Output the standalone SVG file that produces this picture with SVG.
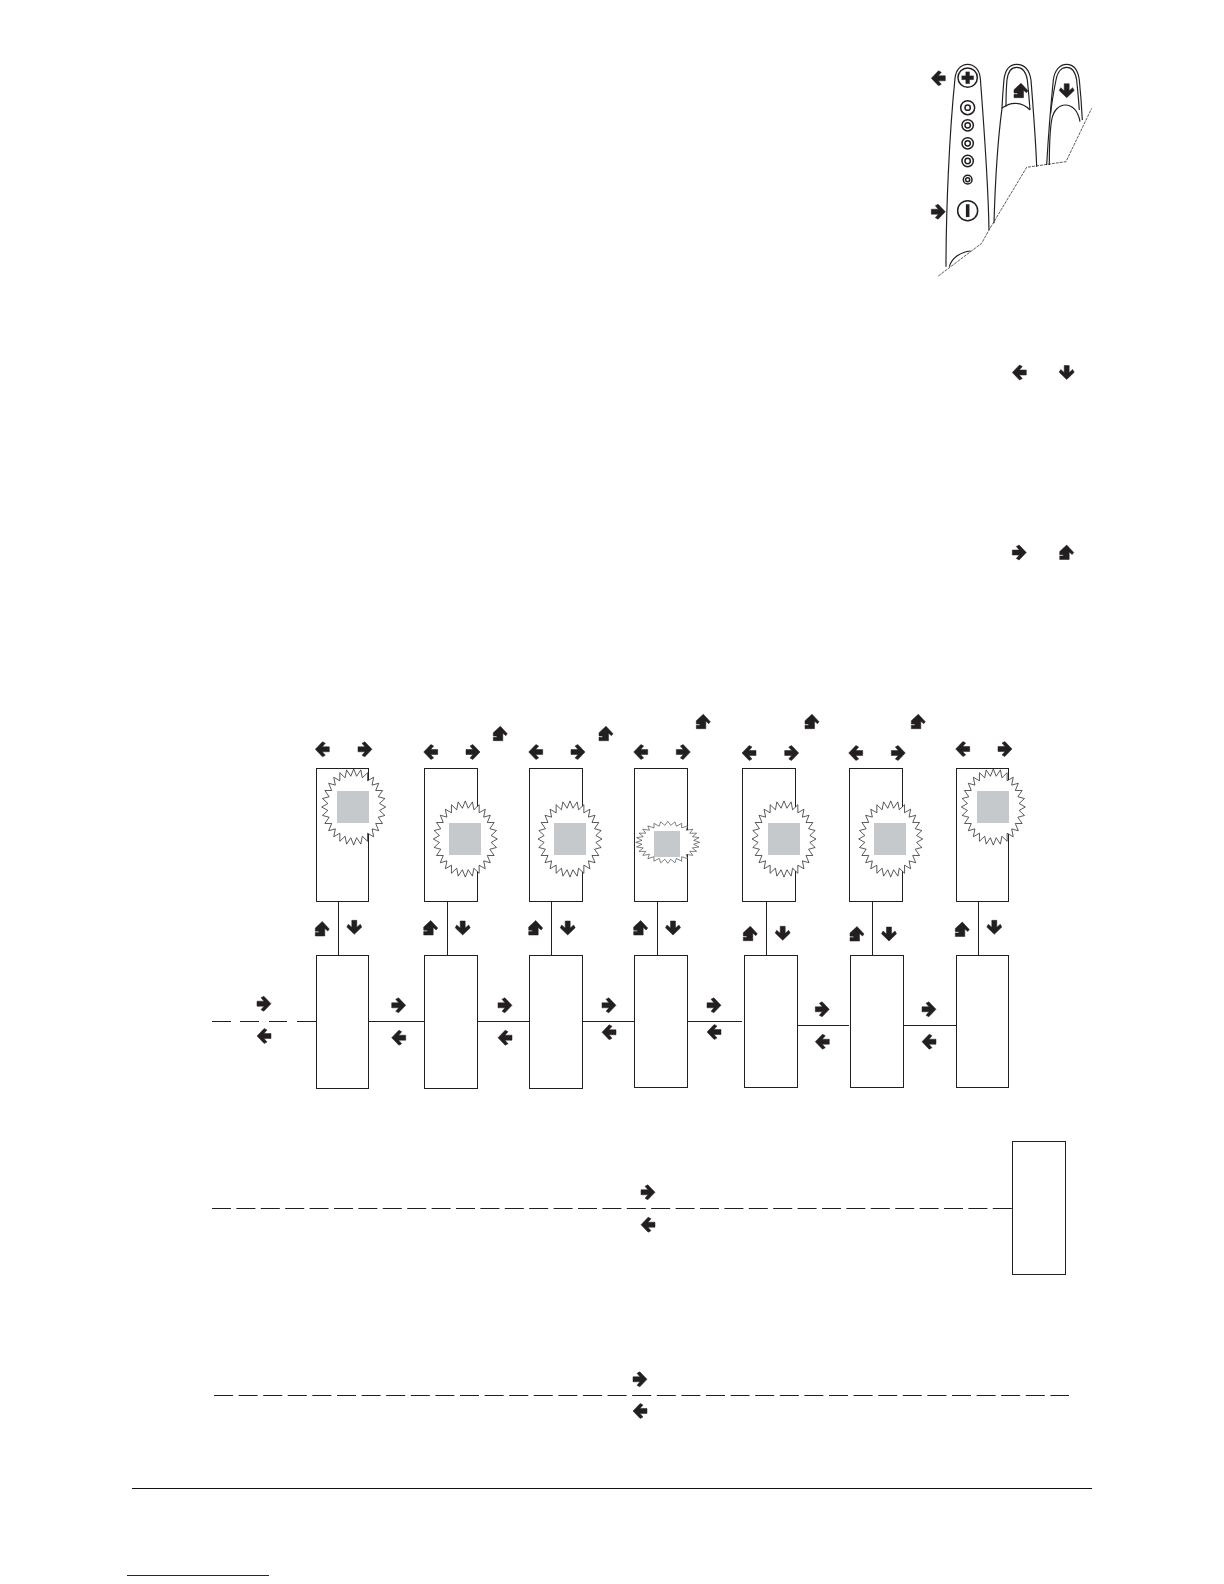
<svg xmlns="http://www.w3.org/2000/svg" width="1224" height="1584" viewBox="0 0 1224 1584">
<style>
.box{fill:#fff;stroke:#231f20;stroke-width:1}
.ln{fill:none;stroke:#231f20;stroke-width:1}
.dash{fill:none;stroke:#231f20;stroke-width:1;stroke-dasharray:19 5.4}
.dash2{fill:none;stroke:#231f20;stroke-width:1;stroke-dasharray:19 5.6}
.burst{fill:#fff;stroke:#2a2a2a;stroke-width:.7;vector-effect:non-scaling-stroke}
.sq{fill:#c5c9cc}
.ar{fill:#231f20;stroke:#231f20;stroke-width:.5}
.h{fill:none;stroke:#231f20;stroke-width:3.5}
.hl{fill:none;stroke:#231f20;stroke-width:4.5}
.hd{fill:none;stroke:#231f20;stroke-width:2.2;stroke-dasharray:9 3}
</style>
<defs>
<path id="r" d="M-7-2.5H0L-3-6-.2-7.5 7 0-.2 7.5-3 6 0 2.5H-7Z"/>
<path id="l" d="M7-2.5H0L3-6 .2-7.5-7 0 .2 7.5 3 6 0 2.5H7Z"/>
<path id="d" d="M-2.5-7V0L-6-3-7.5-.2 0 7 7.5-.2 6-3 2.5 0V-7Z"/>
<path id="u" d="M-7 7V3.5H-3.5V2.2H-7V-1L0-7.5 7 0 5.5 2 2.5-.5V7Z"/>
<polygon id="b" points="32,0 25.84,2.91 31.2,7.12 24.54,8.59 28.83,13.88 22.01,13.83 25.02,19.95 18.38,18.38 19.95,25.02 13.83,22.01 13.88,28.83 8.59,24.54 7.12,31.2 2.91,25.84 0,32 -2.91,25.84 -7.12,31.2 -8.59,24.54 -13.88,28.83 -13.83,22.01 -19.95,25.02 -18.38,18.38 -25.02,19.95 -22.01,13.83 -28.83,13.88 -24.54,8.59 -31.2,7.12 -25.84,2.91 -32,0 -25.84,-2.91 -31.2,-7.12 -24.54,-8.59 -28.83,-13.88 -22.01,-13.83 -25.02,-19.95 -18.38,-18.38 -19.95,-25.02 -13.83,-22.01 -13.88,-28.83 -8.59,-24.54 -7.12,-31.2 -2.91,-25.84 0,-32 2.91,-25.84 7.12,-31.2 8.59,-24.54 13.88,-28.83 13.83,-22.01 19.95,-25.02 18.38,-18.38 25.02,-19.95 22.01,-13.83 28.83,-13.88 24.54,-8.59 31.2,-7.12 25.84,-2.91"/>
</defs>

<g id="hand" transform="translate(920 50) scale(.3333)">
<path class="h" d="M78 650C78 480 88 250 105 85C108 58 124 43 143 43C162 43 178 58 181 85C192 230 205 400 207 540"/>
<path class="h" d="M88 650C95 625 120 606 152 603"/>
<path class="h" d="M222 520C226 380 236 250 246 175C248 130 250 110 252 88C256 58 270 43 290 43C312 43 328 58 333 90C340 180 348 280 350 350"/>
<path class="h" d="M258 170C258 130 259 110 261 90C264 65 275 52 290 52C306 52 318 65 322 90C325 120 328 150 330 180"/>
<path class="h" d="M245 175C258 165 272 160 285 160C302 160 318 167 330 180"/>
<path class="h" d="M380 345C385 260 392 170 400 90C404 60 420 43 440 43C460 43 474 60 478 90C482 130 485 170 487 210"/>
<path class="h" d="M392 190C396 150 402 120 408 90C412 65 425 52 440 52C455 52 466 65 470 90C473 120 476 150 478 180"/>
<path class="h" d="M388 345C388 290 390 240 395 210C400 180 418 165 436 165C455 165 474 180 480 215"/>
<path class="hd" d="M55 678L185 580L207 540L320 352L438 335L515 175"/>
<g id="btn-plus"><circle class="hl" cx="143" cy="83" r="29"/><path class="ar" d="M137 65H149V77H161V89H149V101H137V89H125V77H137Z"/></g>
<g id="btn-minus"><circle class="hl" cx="143" cy="482" r="30"/><rect class="ar" x="138" y="463" width="10" height="38"/></g>
<g id="leds">
<circle class="hl" cx="143" cy="173" r="21"/><circle class="hl" cx="143" cy="173" r="8"/>
<circle class="hl" cx="143" cy="226" r="17"/><circle class="hl" cx="143" cy="226" r="8"/>
<circle class="hl" cx="143" cy="280" r="17"/><circle class="hl" cx="143" cy="280" r="8"/>
<circle class="hl" cx="143" cy="333" r="17"/><circle class="hl" cx="143" cy="333" r="8"/>
<circle class="hl" cx="143" cy="389" r="13"/><circle class="hl" cx="143" cy="389" r="6"/>
</g>
</g>

<g id="connectors">
<path class="ln" d="M338.5 901V955M447.5 901V955M551.5 901V955M657.5 901V955M766.5 901V955M872.5 901V955M978.5 901V955"/>
<path class="ln" d="M368 1021.5H424M476 1021.5H529M581 1021.5H634M686 1021.5H742M797 1025.5H849M902 1025.5H956"/>
<path class="ln" d="M212 1021.5H231M240 1021.5H259M269 1021.5H287M297 1021.5H316"/>
<path class="dash" d="M212 1208.5H1012"/>
<path class="dash2" d="M214 1395.5H1069"/>
</g>

<g id="top-box-1"><rect class="box" x="316.5" y="768.5" width="52" height="133"/><use class="burst" href="#b" transform="translate(353.7 807) scale(1 1.19)"/><rect class="sq" x="337" y="791" width="32" height="32"/></g>
<g id="top-box-2"><rect class="box" x="424.5" y="768.5" width="53" height="133"/><use class="burst" href="#b" transform="translate(465.3 839) scale(1 1.19)"/><rect class="sq" x="449" y="823" width="32" height="32"/></g>
<g id="top-box-3"><rect class="box" x="529.5" y="768.5" width="53" height="133"/><use class="burst" href="#b" transform="translate(570 839) scale(1 1.19)"/><rect class="sq" x="554" y="823" width="32" height="32"/></g>
<g id="top-box-4"><rect class="box" x="634.5" y="768.5" width="53" height="133"/><use class="burst" href="#b" transform="translate(667.8 842.3) scale(1 .656)"/><rect class="sq" x="654" y="831" width="26" height="26"/></g>
<g id="top-box-5"><rect class="box" x="742.5" y="768.5" width="53" height="133"/><use class="burst" href="#b" transform="translate(784 839) scale(1 1.19)"/><rect class="sq" x="768" y="823" width="32" height="32"/></g>
<g id="top-box-6"><rect class="box" x="849.5" y="768.5" width="53" height="133"/><use class="burst" href="#b" transform="translate(890.7 839) scale(1 1.19)"/><rect class="sq" x="874" y="823" width="32" height="32"/></g>
<g id="top-box-7"><rect class="box" x="956.5" y="768.5" width="52" height="133"/><use class="burst" href="#b" transform="translate(993.3 807) scale(1 1.19)"/><rect class="sq" x="977" y="791" width="32" height="32"/></g>

<g id="low-box-1"><rect class="box" x="316.5" y="955.5" width="52" height="133"/></g>
<g id="low-box-2"><rect class="box" x="424.5" y="955.5" width="53" height="133"/></g>
<g id="low-box-3"><rect class="box" x="529.5" y="955.5" width="53" height="133"/></g>
<g id="low-box-4"><rect class="box" x="634.5" y="955.5" width="53" height="132"/></g>
<g id="low-box-5"><rect class="box" x="744.5" y="955.5" width="53" height="132"/></g>
<g id="low-box-6"><rect class="box" x="850.5" y="955.5" width="53" height="132"/></g>
<g id="low-box-7"><rect class="box" x="956.5" y="955.5" width="52" height="132"/></g>
<g id="end-box"><rect class="box" x="1012.5" y="1141.5" width="53" height="133"/></g>

<g id="arrows" class="ar">
<use href="#l" x="938.3" y="78.3"/><use href="#r" x="938.3" y="211.7"/><use href="#u" x="1021" y="90.7"/><use href="#d" x="1066.7" y="90.7"/>
<use href="#l" x="1019.3" y="372.5"/><use href="#d" x="1066.7" y="372.5"/>
<use href="#r" x="1019.3" y="552.5"/><use href="#u" x="1066.7" y="552.5"/>

<use href="#l" x="322.3" y="749.3"/><use href="#r" x="365" y="749.3"/>
<use href="#l" x="430.7" y="752"/><use href="#r" x="473" y="752"/>
<use href="#l" x="535.7" y="752"/><use href="#r" x="578" y="752"/>
<use href="#l" x="640.7" y="752"/><use href="#r" x="683.3" y="752"/>
<use href="#l" x="749" y="753"/><use href="#r" x="791.7" y="753"/>
<use href="#l" x="855.7" y="753"/><use href="#r" x="898.3" y="753"/>
<use href="#l" x="962.7" y="749"/><use href="#r" x="1005" y="749"/>

<use href="#u" x="500.3" y="733.7"/><use href="#u" x="606" y="733.7"/><use href="#u" x="703.3" y="721.7"/><use href="#u" x="812" y="721.7"/><use href="#u" x="918.3" y="721.7"/>

<use href="#u" x="322.3" y="929"/><use href="#d" x="354.3" y="927.3"/>
<use href="#u" x="430.7" y="928"/><use href="#d" x="462.7" y="928"/>
<use href="#u" x="535.7" y="928"/><use href="#d" x="567.7" y="928"/>
<use href="#u" x="640.7" y="928"/><use href="#d" x="673" y="928"/>
<use href="#u" x="750.3" y="933.7"/><use href="#d" x="782.7" y="933.3"/>
<use href="#u" x="857" y="934"/><use href="#d" x="889" y="934"/>
<use href="#u" x="962.3" y="929.5"/><use href="#d" x="994.3" y="927.3"/>

<use href="#r" x="264" y="1003.7"/><use href="#l" x="264" y="1036"/>
<use href="#r" x="398.7" y="1005.3"/><use href="#l" x="398.7" y="1037.7"/>
<use href="#r" x="505" y="1005.3"/><use href="#l" x="505" y="1037.7"/>
<use href="#r" x="609" y="1005.3"/><use href="#l" x="609" y="1032.3"/>
<use href="#r" x="714" y="1005.3"/><use href="#l" x="714" y="1032"/>
<use href="#r" x="822.3" y="1009.3"/><use href="#l" x="822.3" y="1041.7"/>
<use href="#r" x="929" y="1009.3"/><use href="#l" x="929" y="1041.7"/>

<use href="#r" x="648" y="1192.3"/><use href="#l" x="648" y="1224.7"/>
<use href="#r" x="640" y="1379.3"/><use href="#l" x="640" y="1411"/>
</g>

<g id="footer">
<path d="M132 1488.5H1092" fill="none" stroke="#111" stroke-width="1"/>
<path d="M127 1575.5H269" fill="none" stroke="#1a1a8c" stroke-width="1"/>
</g>
</svg>
